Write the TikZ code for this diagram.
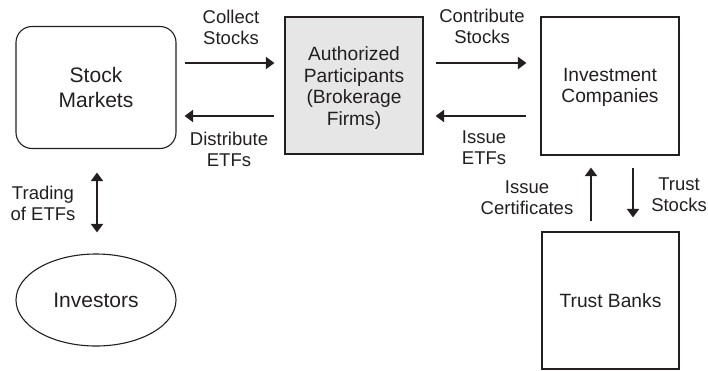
\documentclass[tikz,border=0pt]{standalone}
\usepackage{fontspec}
\setmainfont{Liberation Sans}
\usetikzlibrary{arrows.meta,shapes.geometric}
\definecolor{ink}{HTML}{231F20}
\definecolor{apfill}{HTML}{E6E6E6}
\begin{document}
\begin{tikzpicture}[x=1pt,y=-1pt,
  box/.style={draw=ink,line width=1.1pt,inner sep=0pt,align=center,
    font=\fontsize{19.2}{21.5}\selectfont,text=ink},
  bigtext/.style={font=\fontsize{21}{25}\selectfont},
  lbl/.style={align=center,font=\fontsize{18.5}{21}\selectfont,text=ink,inner sep=0pt},
  tip/.style={Triangle[length=8.5pt,width=12pt]},
  arr/.style={draw=ink,line width=1.9pt,-{Triangle[length=8.5pt,width=12pt]}},
  darr/.style={draw=ink,line width=1.9pt,{Triangle[length=8.5pt,width=12pt]}-{Triangle[length=8.5pt,width=12pt]}}]
\useasboundingbox (0,0) rectangle (708,370);
\node[box,bigtext,rounded corners=16pt,minimum width=160pt,minimum height=122pt] (sm) at (96,87.5) {Stock\\Markets};
\node[box,fill=apfill,minimum width=138pt,minimum height=137pt] (ap) at (354,85.5) {};
\node[box,draw=none,fill=none] (apt) at (354,88) {Authorized\\Participants\\(Brokerage\\Firms)};
\node[box,minimum width=138pt,minimum height=138pt] (ic) at (610,86) {};
\node[box,draw=none] (ict) at (610,87.5) {Investment\\Companies};
\node[box,minimum width=137pt,minimum height=137pt] (tb) at (610.5,300.5) {Trust Banks};
\node[box,bigtext,ellipse,minimum width=160pt,minimum height=92pt] (inv) at (96,300) {Investors};

\draw[arr] ([shift={(8,-24.5)}]sm.east) -- ([shift={(-10,-22.5)}]ap.west);
\draw[arr] ([shift={(-10,30.5)}]ap.west) -- ([shift={(8,28.5)}]sm.east);
\draw[arr] ([shift={(12,-22.5)}]ap.east) -- ([shift={(-14,-23)}]ic.west);
\draw[arr] ([shift={(-14,30)}]ic.west) -- ([shift={(12,30.5)}]ap.east);
\draw[darr] ([shift={(1,23.5)}]sm.south) -- ([shift={(1,-21)}]inv.north);
\draw[arr] ([shift={(-19.5,-10)}]tb.north) -- ([shift={(-19,12)}]ic.south);
\draw[arr] ([shift={(23,12)}]ic.south) -- ([shift={(22.5,-14)}]tb.north);

\node[lbl] (l1) at (231,27) {Collect\\Stocks};
\node[lbl] (l2) at (229,149) {Distribute\\ETFs};
\node[lbl] (l3) at (482,26) {Contribute\\Stocks};
\node[lbl] (l4) at (484,148) {Issue\\ETFs};
\node[lbl] (l5) at (43,203) {Trading\\of ETFs};
\node[lbl] (l6) at (527,198) {Issue\\Certificates};
\node[lbl] (l7) at (679,195) {Trust\\Stocks};
\end{tikzpicture}
\end{document}
